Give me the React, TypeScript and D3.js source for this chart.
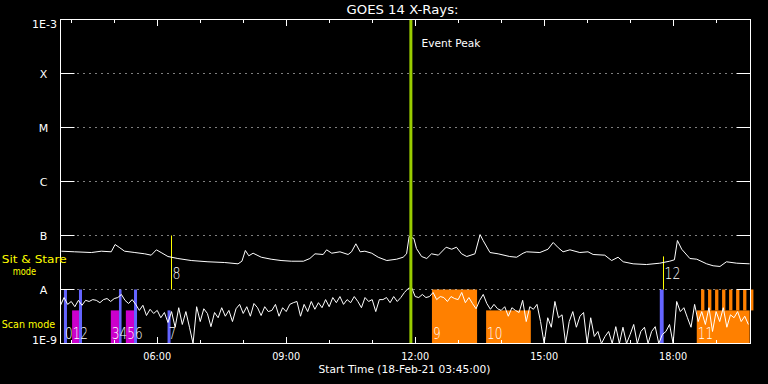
import React from "react";
import * as d3 from "d3";

// ---- data ----
const startHour = 3.75; // 03:45
const endHour = 19.8;
const eventPeakHour = 11.9;

// GOES long channel (sit & stare curve): time in hours, flux in units of 1e-8 W/m^2
const longTimes = [3.77, 4.08, 4.47, 4.7, 4.93, 5.02, 5.13, 5.24, 5.48, 5.71, 5.86, 5.98, 6.09, 6.25, 6.48, 6.79, 7.18, 7.57, 7.88, 7.97, 8.05, 8.13, 8.23, 8.42, 8.65, 8.88, 9.12, 9.4, 9.55, 9.67, 9.86, 9.94, 10.06, 10.25, 10.44, 10.52, 10.62, 10.72, 10.83, 10.99, 11.14, 11.34, 11.57, 11.72, 11.8, 11.86, 11.97, 12.03, 12.15, 12.27, 12.38, 12.54, 12.72, 12.85, 12.96, 13.08, 13.2, 13.39, 13.51, 13.58, 13.74, 13.93, 14.2, 14.36, 14.51, 14.59, 14.9, 15.09, 15.21, 15.33, 15.44, 15.6, 15.83, 16.02, 16.14, 16.41, 16.57, 16.72, 16.84, 17.07, 17.38, 17.69, 17.92, 18.03, 18.1, 18.2, 18.39, 18.55, 18.78, 18.93, 19.09, 19.24, 19.48, 19.78];
const longFlux = [5.12, 4.99, 4.84, 5.12, 4.99, 6.81, 5.92, 5.12, 4.84, 4.58, 4.32, 5.43, 4.84, 4.08, 3.75, 3.44, 3.26, 3.16, 2.99, 3.34, 5.28, 4.21, 4.7, 3.96, 3.64, 3.44, 3.34, 3.34, 3.75, 4.58, 4.45, 5.43, 4.7, 4.99, 4.45, 4.99, 7.02, 4.99, 5.12, 4.7, 3.96, 3.44, 3.64, 3.96, 4.58, 9.58, 8.8, 5.74, 4.08, 3.75, 4.58, 4.32, 6.07, 5.57, 6.07, 4.58, 4.08, 4.58, 10.4, 8.08, 4.84, 4.58, 4.08, 3.96, 4.7, 4.99, 4.84, 5.57, 7.42, 5.92, 4.99, 5.43, 4.84, 4.99, 4.45, 4.32, 3.44, 3.96, 3.26, 2.99, 2.9, 3.07, 3.34, 3.55, 8.08, 5.57, 3.75, 3.64, 2.99, 2.75, 2.67, 3.26, 3.07, 2.99];

// short channel (scan mode curve): 5-minute samples from 03:45, flux in units of 1e-9 W/m^2
const shortCadenceMin = 5;
const shortFlux = [
  5.1, 7.1, 5.3, 6.0, 4.8, 6.3, 5.1, 6.3, 6.0, 6.5, 6.3, 5.7, 6.5, 6.8, 6.0, 6.8, 7.1, 8.1, 6.3, 5.5,
  6.5, 5.3, 4.1, 5.1, 3.3, 4.3, 3.6, 4.1, 3.0, 3.75, 2.45, 3.9, 2.0, 4.6, 2.25, 3.9, 2.0, 0.8, 4.8, 2.55,
  4.4, 3.6, 2.05, 3.75, 3.0, 4.6, 3.2, 4.1, 2.55, 4.4, 5.3, 3.6, 4.8, 3.2, 5.5, 4.6, 3.3, 4.8, 3.9, 4.1,
  5.3, 3.2, 4.6, 3.9, 5.3, 5.7, 6.0, 3.2, 5.3, 3.9, 6.0, 4.3, 5.7, 4.6, 6.5, 4.8, 7.1, 5.7, 7.4, 5.3,
  6.5, 5.7, 7.4, 6.0, 4.6, 7.1, 6.0, 6.5, 3.9, 6.5, 6.5, 7.1, 5.7, 7.4, 6.0, 7.1, 8.8, 10.4, 10.9, 7.4,
  7.1, 8.1, 7.1, 7.4, 8.8, 6.5, 7.4, 7.1, 6.0, 7.4, 6.8, 6.5, 8.8, 5.7, 7.1, 5.5, 4.4, 6.3, 8.1, 5.5,
  4.3, 5.3, 4.4, 4.1, 4.8, 3.2, 4.6, 4.1, 3.75, 6.3, 2.55, 4.8, 4.3, 5.3, 2.55, 0.8, 3.0, 2.0, 6.0, 3.0,
  3.4, 0.8, 2.55, 3.9, 2.0, 3.2, 3.75, 0.8, 3.0, 1.35, 1.67, 0.8, 1.35, 1.67, 0.8, 2.05, 0.8, 2.0, 0.8, 1.47,
  2.25, 0.8, 1.67, 2.0, 0.8, 1.67, 2.05, 0.8, 1.47, 1.67, 2.25, 0.8, 6.0, 3.9, 4.6, 3.0, 2.0, 5.3, 2.55, 3.9,
  2.25, 4.6, 1.67, 3.9, 2.55, 4.6, 2.0, 3.4, 3.0, 3.9, 2.55, 3.2, 2.25
];

// y-axis decades
const yTickValues = [1e-9, 1e-8, 1e-7, 1e-6, 1e-5, 1e-4, 1e-3];
const yTickLabels = ["1E-9", "A", "B", "C", "M", "X", "1E-3"];

// x-axis
const xTickHours = [4, 5, 6, 7, 8, 9, 10, 11, 12, 13, 14, 15, 16, 17, 18, 19];
const xLabelHours = [6, 9, 12, 15, 18];
const xLabelTexts = ["06:00", "09:00", "12:00", "15:00", "18:00"];

// scan-mode observation bars
const scanStart = [3.83, 4.02, 4.18, 4.92, 5.11, 5.27, 5.46, 6.24, 12.39, 13.65, 17.69, 18.55];
const scanEnd = [3.9, 4.18, 4.25, 5.11, 5.17, 5.46, 5.53, 6.31, 13.44, 14.69, 17.78, 19.78];
const scanTop = [1e-8, 4.1e-9, 1e-8, 4.1e-9, 1e-8, 4.1e-9, 1e-8, 4.1e-9, 1e-8, 4.1e-9, 1e-8, 4.1e-9];
const scanKind = ["blue", "mag", "blue", "mag", "blue", "mag", "blue", "blue", "orange", "orange", "blue", "orange"];
const scanLabels = ["0", "1", "2", "3", "4", "5", "6", "7", "9", "10", "", "11"];
const stripeStarts = [18.65, 18.813, 18.976, 19.139, 19.302, 19.465, 19.628, 19.791];
const stripeWidthH = 0.077;

// sit & stare markers
const sitTimes = [6.32, 17.765];
const sitTops = [1e-7, 4.1e-8];
const sitLabels = ["8", "12"];

const kindColor: Record<string, string> = { blue: "#6464ff", mag: "#cc00cc", orange: "#ff8000" };

export default function App() {
  const W = 768, H = 384;
  const x = d3.scaleLinear().domain([startHour, endHour]).range([60.5, 750.5]);
  const y = d3.scaleLog().domain([1e-9, 1e-3]).range([343.5, 19.5]).clamp(true);

  const longData: [number, number][] = longTimes.map((t, i) => [t, longFlux[i] * 1e-8]);
  const shortData: [number, number][] = shortFlux.map((v, i) => [startHour + (i * shortCadenceMin) / 60, v * 1e-9]);
  const line = d3.line<[number, number]>().x((d) => x(d[0])).y((d) => y(d[1]));

  const font = "'DejaVu Sans', sans-serif";
  const left = x(startHour), right = x(endHour), top = y(1e-3), bottom = y(1e-9);
  const digitW = 7.7;

  // merge adjacent scan labels into runs so that neighbouring digits form one text
  const labelRuns: { x: number; text: string }[] = [];
  scanStart.forEach((s, i) => {
    const lbl = scanLabels[i];
    if (!lbl) return;
    const px = x(s) + 1;
    const last = labelRuns[labelRuns.length - 1];
    if (last && px - (last.x + last.text.length * digitW) < 2) {
      last.text += lbl;
    } else {
      labelRuns.push({ x: px, text: lbl });
    }
  });

  return (
    <svg width={W} height={H} style={{ position: "absolute", left: 0, top: 0, background: "#000" }}>
      <rect x={0} y={0} width={W} height={H} fill="#000" />
      <defs>
        <clipPath id="plot">
          <rect x={left} y={top} width={right - left} height={bottom - top + 1} />
        </clipPath>
      </defs>

      {/* scan bars */}
      {scanStart.map((s, i) => (
        <rect key={"b" + i} x={x(s)} y={y(scanTop[i])} width={x(scanEnd[i]) - x(s)} height={y(1e-9) - y(scanTop[i])} fill={kindColor[scanKind[i]]} />
      ))}
      {stripeStarts.map((s, i) => (
        <rect key={"s" + i} x={x(s)} y={y(1e-8)} width={x(s + stripeWidthH) - x(s)} height={y(4.1e-9) - y(1e-8)} fill="#ff8000" />
      ))}

      {/* grid */}
      {yTickValues.slice(1, -1).map((v, i) => (
        <g key={"g" + i}>
          <line x1={left} x2={left + 14} y1={y(v)} y2={y(v)} stroke="#fff" />
          <line x1={right - 14} x2={right} y1={y(v)} y2={y(v)} stroke="#fff" />
          <line x1={left + 17} x2={right - 14} y1={y(v)} y2={y(v)} stroke="#fff" strokeDasharray="1 5" />
        </g>
      ))}

      {/* sit & stare markers */}
      {sitTimes.map((t, i) => (
        <g key={"ss" + i}>
          <line x1={Math.round(x(t)) + 0.5} x2={Math.round(x(t)) + 0.5} y1={y(sitTops[i])} y2={y(1e-8)} stroke="#ffff00" />
          <text x={x(t) + 1.5} y={278.5} fill="#fff" fontFamily={font} fontSize={16.5} fontWeight={200}
            textLength={8 * sitLabels[i].length} lengthAdjust="spacingAndGlyphs">{sitLabels[i]}</text>
        </g>
      ))}

      {/* curves */}
      <g clipPath="url(#plot)">
        <path d={line(longData) || ""} fill="none" stroke="#fff" strokeWidth={1} />
        <path d={line(shortData) || ""} fill="none" stroke="#fff" strokeWidth={1} />
      </g>

      {/* scan labels */}
      {labelRuns.map((r, i) => (
        <text key={"l" + i} x={r.x} y={339} fill="#fff" fontFamily={font} fontSize={16.5} fontWeight={200}
          textLength={digitW * r.text.length} lengthAdjust="spacingAndGlyphs">{r.text}</text>
      ))}

      {/* event peak */}
      <line x1={x(eventPeakHour)} x2={x(eventPeakHour)} y1={top} y2={bottom} stroke="#99cc00" strokeWidth={3} />
      <text x={421.5} y={47} fill="#fff" fontFamily={font} fontSize={11} textLength={59} lengthAdjust="spacingAndGlyphs">Event Peak</text>

      {/* frame */}
      <rect x={left} y={top} width={right - left} height={bottom - top} fill="none" stroke="#fff" />

      {/* x ticks */}
      {xTickHours.map((h) => {
        const len = h % 3 === 0 ? 6.5 : 3.5;
        const xx = Math.round(x(h)) + 0.5;
        return (
          <g key={"t" + h}>
            <line x1={xx} x2={xx} y1={top} y2={top + len} stroke="#fff" />
            <line x1={xx} x2={xx} y1={bottom} y2={bottom - len} stroke="#fff" />
          </g>
        );
      })}
      {xLabelHours.map((h, i) => (
        <text key={"xl" + i} x={x(h)} y={359.5} fill="#fff" fontFamily={font} fontSize={10.5} textAnchor="middle"
          textLength={28} lengthAdjust="spacingAndGlyphs">{xLabelTexts[i]}</text>
      ))}
      <text x={404.5} y={372.5} fill="#fff" fontFamily={font} fontSize={10.5} textAnchor="middle"
        textLength={172} lengthAdjust="spacingAndGlyphs">Start Time (18-Feb-21 03:45:00)</text>

      {/* y labels */}
      {yTickValues.map((v, i) => {
        const lbl = yTickLabels[i];
        if (i === 0) return <text key={"yl" + i} x={57} y={343.5} fill="#fff" fontFamily={font} fontSize={11} textAnchor="end" textLength={25} lengthAdjust="spacingAndGlyphs">{lbl}</text>;
        if (i === yTickValues.length - 1) return <text key={"yl" + i} x={57} y={27.5} fill="#fff" fontFamily={font} fontSize={11} textAnchor="end" textLength={25} lengthAdjust="spacingAndGlyphs">{lbl}</text>;
        return <text key={"yl" + i} x={43.5} y={y(v) + 4} fill="#fff" fontFamily={font} fontSize={11} textAnchor="middle">{lbl}</text>;
      })}

      {/* title */}
      <text x={402.5} y={14} fill="#fff" fontFamily={font} fontSize={12} textAnchor="middle" textLength={112} lengthAdjust="spacingAndGlyphs">GOES 14 X-Rays:</text>

      {/* mode labels */}
      <text x={1.7} y={263} fill="#ffff00" fontFamily={font} fontSize={11} textLength={65} lengthAdjust="spacingAndGlyphs">Sit &amp; Stare</text>
      <text x={12.7} y={275} fill="#ffff00" fontFamily={font} fontSize={11} textLength={23.5} lengthAdjust="spacingAndGlyphs">mode</text>
      <text x={1.7} y={327.5} fill="#ffff00" fontFamily={font} fontSize={11} textLength={53.5} lengthAdjust="spacingAndGlyphs">Scan mode</text>
    </svg>
  );
}
